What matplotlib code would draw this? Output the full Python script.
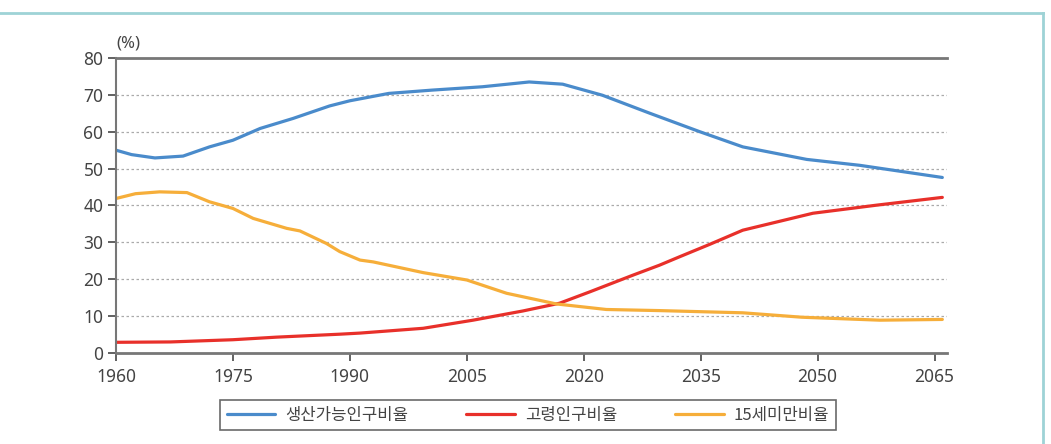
import matplotlib
matplotlib.use("Agg")
import matplotlib.pyplot as plt
from matplotlib.lines import Line2D

# ---- data ----
blue_years = [1960, 1962, 1965, 1968.6, 1972, 1975, 1978.5, 1982.7, 1987.4, 1990, 1995,
              2000.6, 2007, 2013, 2017.3, 2022.4, 2028.5, 2034.9, 2040.4, 2048.6, 2055.4, 2066]
blue_vals = [55.0, 53.8, 52.9, 53.4, 55.9, 57.7, 60.9, 63.6, 67.0, 68.4, 70.4,
             71.3, 72.2, 73.5, 72.9, 69.9, 65.0, 60.0, 55.9, 52.5, 50.9, 47.6]

red_years = [1960, 1967, 1975, 1980.6, 1988.7, 1991.3, 1999.4, 2005.8, 2012.2, 2016.9, 2020.8,
             2026.3, 2029.7, 2032.3, 2036.2, 2040.4, 2049.4, 2057.6, 2066]
red_vals = [2.9, 3.0, 3.6, 4.3, 5.1, 5.4, 6.7, 8.9, 11.4, 13.5, 16.6,
            21.1, 23.8, 26.1, 29.5, 33.3, 37.9, 40.1, 42.2]

orange_years = [1960, 1962.5, 1965.6, 1969.1, 1972, 1975, 1977.6, 1981.9, 1983.6, 1987, 1988.7,
                1991.3, 1993, 1999.4, 2005, 2010.1, 2016.5, 2022.9, 2029.7, 2040.4, 2048,
                2058, 2066]
orange_vals = [41.9, 43.2, 43.7, 43.5, 41.0, 39.2, 36.5, 33.8, 33.1, 29.7, 27.5,
               25.2, 24.7, 21.8, 19.8, 16.2, 13.3, 11.8, 11.5, 10.9, 9.7,
               8.9, 9.1]

series_names = ["생산가능인구비율", "고령인구비율", "15세미만비율"]
x_ticks = [1960, 1975, 1990, 2005, 2020, 2035, 2050, 2065]
y_ticks = [0, 10, 20, 30, 40, 50, 60, 70, 80]

W, H = 1051, 444
fig = plt.figure(figsize=(W / 100, H / 100), dpi=100)
ax = fig.add_axes([116 / W, 1 - 353 / H, (947 - 116) / W, (353 - 58) / H])

tick_font = ["Liberation Sans Narrow", "Noto Sans", "DejaVu Sans"]
kr_font = ["Noto Sans CJK KR", "DejaVu Sans"]

ax.plot(blue_years, blue_vals, color="#4A8BCB", lw=2.3, label=series_names[0],
        solid_capstyle="round", solid_joinstyle="round")
ax.plot(red_years, red_vals, color="#E8302A", lw=2.3, label=series_names[1],
        solid_capstyle="round", solid_joinstyle="round")
ax.plot(orange_years, orange_vals, color="#F6AE3A", lw=2.3, label=series_names[2],
        solid_capstyle="round", solid_joinstyle="round")

ax.set_xlim(1960, 2066.6)
ax.set_ylim(0, 80)
ax.set_xticks(x_ticks)
ax.set_yticks(y_ticks)
for v in y_ticks[1:-1]:
    ax.axhline(v, color="#aaaaaa", lw=0.9, ls=(0, (2, 2)), zorder=0)

for s in ["left", "bottom", "top"]:
    ax.spines[s].set_color("#777777")
ax.spines["left"].set_linewidth(1.5)
ax.spines["bottom"].set_linewidth(2.0)
ax.spines["top"].set_linewidth(2.0)
ax.spines["right"].set_visible(False)

ax.tick_params(axis="both", colors="#555555", length=6, width=1.3, direction="out",
               labelcolor="#444444", labelsize=12.5)
ax.tick_params(axis="x", pad=5)
ax.tick_params(axis="y", pad=3)
for lab in ax.get_xticklabels() + ax.get_yticklabels():
    lab.set_family(tick_font)

fig.text(128 / W, 1 - 43 / H, "(%)", fontsize=12, color="#444444",
         family=tick_font, ha="center", va="center")

leg = fig.legend(loc="center", bbox_to_anchor=(528 / W, 1 - 415 / H), ncol=3,
                 frameon=True, fancybox=False, edgecolor="#444444", handlelength=2.9,
                 columnspacing=3.5, handletextpad=0.6, borderpad=0.4,
                 prop={"family": kr_font, "size": 12})
leg.get_frame().set_linewidth(1.2)
for t in leg.get_texts():
    t.set_color("#444444")

# teal frame around figure
frame_col = "#9ED3D6"
fig.add_artist(Line2D([0, 1043 / W], [1 - 13.5 / H, 1 - 13.5 / H], color=frame_col, lw=2,
                      transform=fig.transFigure))
fig.add_artist(Line2D([1043 / W, 1043 / W], [1 - 13.5 / H, 0], color=frame_col, lw=2,
                      transform=fig.transFigure))

fig.savefig("out.png", dpi=100)
